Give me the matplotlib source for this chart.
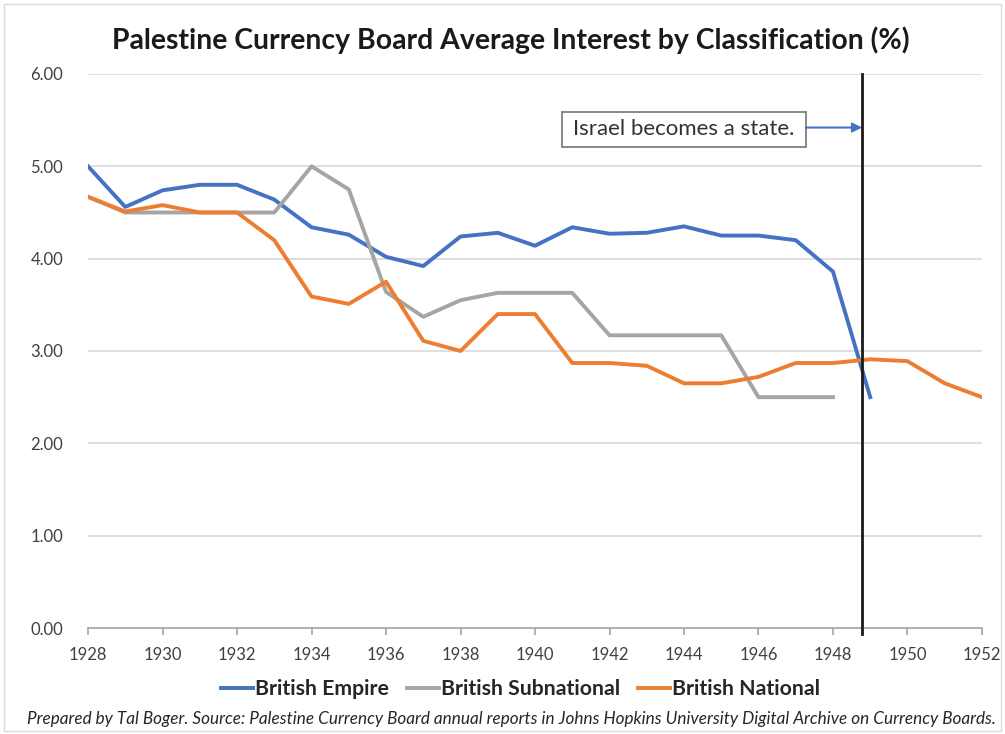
import matplotlib
matplotlib.use("Agg")
import matplotlib.pyplot as plt
from matplotlib.patches import Rectangle

years_empire = list(range(1928, 1950))
empire = [5.00, 4.56, 4.74, 4.80, 4.80, 4.64, 4.34, 4.26, 4.02, 3.92, 4.24,
          4.28, 4.14, 4.34, 4.27, 4.28, 4.35, 4.25, 4.25, 4.20, 3.86, 2.50]

years_sub = list(range(1928, 1949))
subnational = [4.67, 4.50, 4.50, 4.50, 4.50, 4.50, 5.00, 4.75, 3.64, 3.37, 3.55,
               3.63, 3.63, 3.63, 3.17, 3.17, 3.17, 3.17, 2.50, 2.50, 2.50]

years_nat = list(range(1928, 1953))
national = [4.67, 4.51, 4.58, 4.50, 4.50, 4.20, 3.59, 3.51, 3.75, 3.11, 3.00,
            3.40, 3.40, 2.87, 2.87, 2.84, 2.65, 2.65, 2.72, 2.87, 2.87, 2.91,
            2.89, 2.65, 2.50]

statehood = 1948.78
yticks = [0, 1, 2, 3, 4, 5, 6]
xticks = list(range(1928, 1953, 2))

FONT = ["Lato", "DejaVu Sans"]
plt.rcParams["font.family"] = FONT

fig = plt.figure(figsize=(10.05, 7.34), dpi=100)
ax = fig.add_axes([0.0876, 0.1444, 0.8895, 0.7548])

ax.set_xlim(1928, 1952)
ax.set_ylim(0, 6)
ax.set_yticks(yticks)
ax.set_yticklabels([f"{v:.2f}" for v in yticks])
ax.set_xticks(xticks)
ax.grid(axis="y", color="#d9d9d9", lw=1.2)
ax.set_axisbelow(True)
for s in ["left", "right", "top"]:
    ax.spines[s].set_visible(False)
ax.spines["bottom"].set_color("#a6a6a6")
ax.spines["bottom"].set_linewidth(1.2)
ax.tick_params(axis="y", length=0, labelsize=12, labelcolor="#404040", pad=18)
ax.tick_params(axis="x", length=5, width=1.2, color="#a6a6a6", direction="out",
               labelsize=12, labelcolor="#404040", pad=9)

lw = 2.8
ax.plot(years_empire, empire, color="#4472C4", lw=lw, label="British Empire",
        solid_joinstyle="round", zorder=3)
ax.plot(years_sub, subnational, color="#A5A5A5", lw=lw, label="British Subnational",
        solid_joinstyle="round", zorder=3)
ax.plot(years_nat, national, color="#ED7D31", lw=lw, label="British National",
        solid_joinstyle="round", zorder=3)

ax.axvline(statehood, color="#1a1a1a", lw=2, zorder=4, ymin=-0.01, clip_on=False)

box_left, box_right = 1940.72, 1947.27
ax.add_patch(Rectangle((box_left, 5.21), box_right - box_left, 0.38, fc="white",
                       ec="#7f7f7f", lw=1.3, zorder=5))
ax.text((box_left + box_right) / 2, 5.40, "Israel becomes a state.",
        ha="center", va="center", fontsize=16, color="#333333", zorder=6)
ax.annotate("", xy=(statehood, 5.42), xytext=(box_right, 5.42),
            arrowprops=dict(arrowstyle="-|>", color="#4472C4", lw=1.5,
                            mutation_scale=14, shrinkA=0, shrinkB=0), zorder=5)

fig.text(0.508, 0.945, "Palestine Currency Board Average Interest by Classification (%)",
         ha="center", va="center", fontsize=20.4, fontweight="bold", color="#1a1a1a")

leg = fig.legend(loc="center", bbox_to_anchor=(0.518, 0.061), ncol=3, frameon=False,
                 handlelength=1.5, handletextpad=0.1, columnspacing=0.85,
                 prop={"family": FONT, "weight": "bold", "size": 15.3})
for t in leg.get_texts():
    t.set_color("#262626")

fig.text(0.509, 0.021, "Prepared by Tal Boger. Source: Palestine Currency Board annual reports in "
         "Johns Hopkins University Digital Archive on Currency Boards.",
         ha="center", va="center", fontsize=12.3, style="italic", color="#262626")

fig.patches.append(Rectangle((0.004, 0.004), 0.992, 0.99, transform=fig.transFigure,
                             fill=False, ec="#d9d9d9", lw=1))

fig.savefig("out.png", dpi=100)
